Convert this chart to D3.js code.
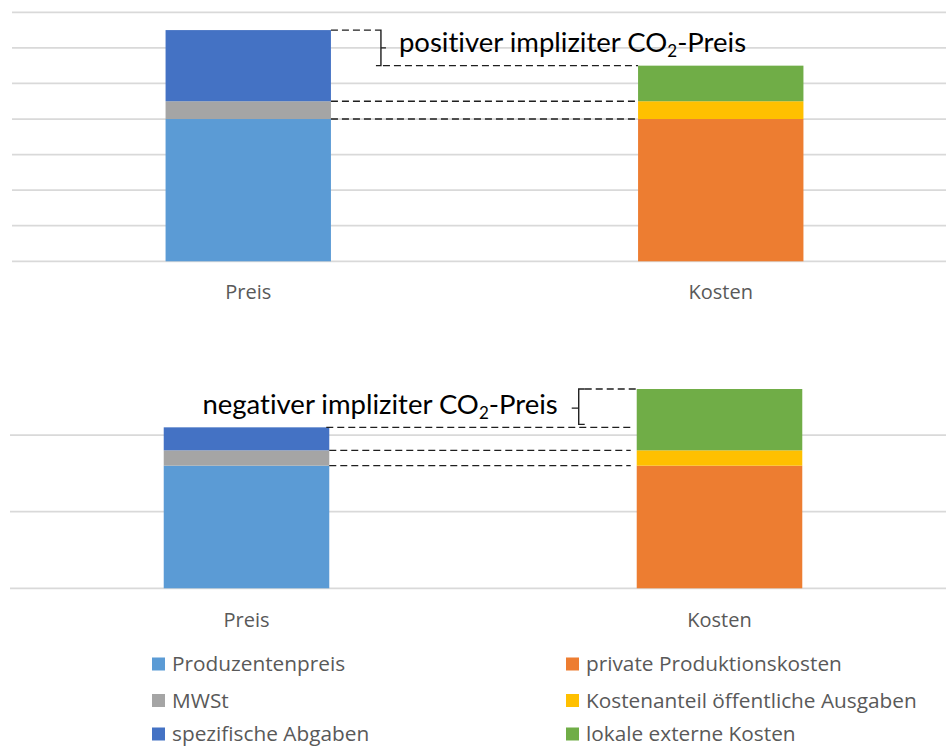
<!DOCTYPE html>
<html>
<head>
<meta charset="utf-8">
<script src="https://cdn.jsdelivr.net/npm/d3@7"></script>
<style>
  html, body { margin: 0; padding: 0; background: #fff; }
  svg { display: block; }
  text { font-variant-ligatures: none; }
</style>
</head>
<body>
<svg id="chart" width="946" height="746"></svg>
<script>
// Categories and series
const categories = ["Preis", "Kosten"];
const seriesNames = [
  "Produzentenpreis", "MWSt", "spezifische Abgaben",
  "private Produktionskosten", "Kostenanteil öffentliche Ausgaben", "lokale externe Kosten"
];
const seriesColors = ["#5B9BD5", "#A5A5A5", "#4472C4", "#ED7D31", "#FFC000", "#70AD47"];

// Upper panel: positive implicit CO2 price
const posProduzentenpreis = [4, 0];
const posMWSt = [0.5, 0];
const posAbgaben = [2, 0];
const posPrivat = [0, 4];
const posOeffentlich = [0, 0.5];
const posExtern = [0, 1];
const posTicks = [0, 1, 2, 3, 4, 5, 6, 7];

// Lower panel: negative implicit CO2 price
const negProduzentenpreis = [4, 0];
const negMWSt = [0.5, 0];
const negAbgaben = [0.75, 0];
const negPrivat = [0, 4];
const negOeffentlich = [0, 0.5];
const negExtern = [0, 2];
const negTicks = [0, 2.5, 5];

const annotationPos = "positiver impliziter CO";
const annotationNeg = "negativer impliziter CO";

const svg = d3.select("#chart");
const labelFont = "'Open Sans', 'Noto Sans', sans-serif";
const noteFont = "Lato, 'Open Sans', sans-serif";

function buildRows(cols) {
  return categories.map((c, i) => {
    const row = { category: c };
    seriesNames.forEach((s, k) => row[s] = cols[k][i]);
    return row;
  });
}

function drawPanel(opts) {
  const rows = buildRows(opts.cols);
  const x = d3.scaleBand().domain(categories)
    .range(opts.xRange).paddingInner(0.65).paddingOuter(0.325);
  const y = d3.scaleLinear().domain([0, d3.max(opts.ticks)]).range(opts.yRange);

  const g = svg.append("g");

  // horizontal gridlines
  g.append("g").selectAll("line").data(opts.ticks).join("line")
    .attr("x1", opts.gridX[0]).attr("x2", opts.gridX[1])
    .attr("y1", d => y(d)).attr("y2", d => y(d))
    .attr("stroke", "#d9d9d9").attr("stroke-width", 1.75);

  // stacked bars
  const stacked = d3.stack().keys(seriesNames)(rows);
  g.append("g").selectAll("g").data(stacked).join("g")
    .attr("fill", (d, i) => seriesColors[i])
    .selectAll("rect").data(d => d.filter(p => p[1] - p[0] > 0)).join("rect")
    .attr("x", d => x(d.data.category))
    .attr("width", x.bandwidth())
    .attr("y", d => y(d[1]))
    .attr("height", d => y(d[0]) - y(d[1]));

  // category axis labels
  const axis = d3.axisBottom(x).tickSize(0).tickPadding(0);
  const ax = g.append("g").attr("transform", `translate(0,${opts.labelY})`).call(axis);
  ax.select(".domain").remove();
  ax.selectAll("text")
    .attr("dy", 0)
    .attr("font-family", labelFont).attr("font-size", 20).attr("fill", "#595959");

  return { x, y, rows, g };
}

function stackTop(rows, idx, upto) {
  let s = 0;
  for (let k = 0; k <= upto; k++) s += rows[idx][seriesNames[k]];
  return s;
}

function dashed(g, x1, x2, yy) {
  g.append("line").attr("x1", x1).attr("x2", x2).attr("y1", yy).attr("y2", yy)
    .attr("stroke", "#1f1f1f").attr("stroke-width", 1.4).attr("stroke-dasharray", "7,4");
}

function note(g, text, xx, yy, anchor) {
  const t = g.append("text").attr("x", xx).attr("y", yy)
    .attr("font-family", noteFont).attr("font-size", 27.5).attr("fill", "#000")
    .attr("text-anchor", anchor);
  t.append("tspan").text(text);
  t.append("tspan").attr("font-size", 17).attr("dy", 5).text("2");
  t.append("tspan").attr("dy", -5).text("-Preis");
}

// ---- upper panel ----
const upperPanel = drawPanel({
  cols: [posProduzentenpreis, posMWSt, posAbgaben, posPrivat, posOeffentlich, posExtern],
  ticks: posTicks, xRange: [12, 957], yRange: [261.3, 12.3], gridX: [12, 946], labelY: 299
});
{
  const { x, y, rows, g } = upperPanel;
  const pR = x("Preis") + x.bandwidth();
  const kL = x("Kosten");
  const preisTop = stackTop(rows, 0, 2);
  const kostenTop = stackTop(rows, 1, 5);
  const yA = y(preisTop), yB = y(kostenTop);
  dashed(g, pR, kL, y(stackTop(rows, 0, 1)));
  dashed(g, pR, kL, y(stackTop(rows, 0, 0)));
  const bx = pR + 50;
  dashed(g, pR, bx - 5, yA);
  dashed(g, bx + 2, kL, yB);
  // bracket "]" with centre tick
  g.append("path")
    .attr("d", `M${bx - 5},${yA} H${bx} V${yB} H${bx - 5} M${bx},${(yA + yB) / 2} H${bx + 5}`)
    .attr("fill", "none").attr("stroke", "#1f1f1f").attr("stroke-width", 1.4);
  note(g, annotationPos, bx + 18, 52, "start");
}

// ---- lower panel ----
const lowerPanel = drawPanel({
  cols: [negProduzentenpreis, negMWSt, negAbgaben, negPrivat, negOeffentlich, negExtern],
  ticks: negTicks, xRange: [10, 956], yRange: [588.3, 435], gridX: [10, 946], labelY: 627
});
{
  const { x, y, rows, g } = lowerPanel;
  const pR = x("Preis") + x.bandwidth();
  const kL = x("Kosten");
  const preisTop = stackTop(rows, 0, 2);
  const kostenTop = stackTop(rows, 1, 5);
  const yA = y(kostenTop), yB = y(preisTop);
  dashed(g, pR, kL - 6, y(stackTop(rows, 0, 1)));
  dashed(g, pR, kL - 6, y(stackTop(rows, 0, 0)));
  dashed(g, pR - 3, kL - 6, yB);
  const bx = kL - 58;
  dashed(g, bx + 6, kL, yA);
  // bracket "{" with centre tick
  g.append("path")
    .attr("d", `M${bx + 6},${yA} H${bx} V${yB - 3} H${bx + 6} M${bx},${(yA + yB) / 2} H${bx - 7}`)
    .attr("fill", "none").attr("stroke", "#1f1f1f").attr("stroke-width", 1.4);
  note(g, annotationNeg, bx - 21, 414, "end");
}

// ---- legend ----
const legendCols = [152, 566];
const legendRows = [664, 700.5, 734];
const legend = svg.append("g");
seriesNames.forEach((name, i) => {
  const col = Math.floor(i / 3), row = i % 3;
  const item = legend.append("g")
    .attr("transform", `translate(${legendCols[col]},${legendRows[row]})`);
  item.append("rect").attr("x", 0).attr("y", -6.5).attr("width", 13).attr("height", 13)
    .attr("fill", seriesColors[i]);
  item.append("text").attr("x", 20).attr("y", 7)
    .attr("font-family", labelFont).attr("font-size", 20.8).attr("fill", "#595959")
    .text(name);
});
</script>
</body>
</html>
